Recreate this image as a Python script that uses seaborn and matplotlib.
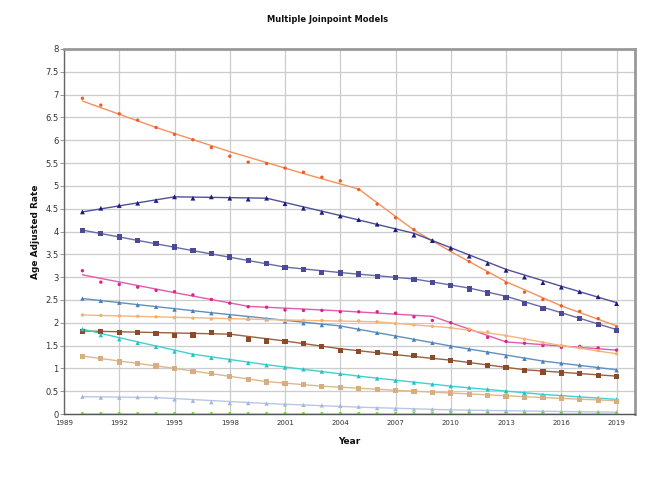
import matplotlib
matplotlib.use("Agg")
import matplotlib.pyplot as plt
import numpy as np
import pandas as pd
import seaborn as sns

years = list(range(1990, 2020))

orange_obs = [6.92, 6.77, 6.58, 6.44, 6.28, 6.13, 6.01, 5.84, 5.65, 5.52, 5.49, 5.39, 5.30, 5.19, 5.11,
              4.92, 4.60, 4.30, 4.04, 3.80, 3.59, 3.34, 3.09, 2.87, 2.67, 2.51, 2.37, 2.25, 2.09, 1.91]
navy_obs = [4.43, 4.51, 4.57, 4.62, 4.68, 4.76, 4.73, 4.76, 4.73, 4.71, 4.73, 4.61, 4.51, 4.42, 4.34,
            4.26, 4.16, 4.04, 3.92, 3.80, 3.64, 3.46, 3.30, 3.15, 3.00, 2.88, 2.78, 2.68, 2.57, 2.42]
slate_obs = [4.03, 3.95, 3.88, 3.80, 3.73, 3.66, 3.59, 3.52, 3.44, 3.36, 3.29, 3.21, 3.16, 3.11, 3.09,
             3.07, 3.02, 3.00, 2.95, 2.88, 2.81, 2.74, 2.65, 2.56, 2.43, 2.32, 2.21, 2.10, 1.97, 1.83]
pink_obs = [3.14, 2.89, 2.84, 2.78, 2.71, 2.68, 2.61, 2.51, 2.43, 2.35, 2.34, 2.28, 2.27, 2.27, 2.24,
            2.24, 2.24, 2.21, 2.13, 2.05, 2.00, 1.84, 1.68, 1.59, 1.55, 1.50, 1.46, 1.48, 1.45, 1.40]
steel_obs = [2.53, 2.48, 2.44, 2.39, 2.35, 2.29, 2.26, 2.21, 2.15, 2.10, 2.08, 2.03, 1.99, 1.95, 1.92,
             1.86, 1.78, 1.70, 1.63, 1.56, 1.48, 1.42, 1.35, 1.27, 1.21, 1.15, 1.11, 1.07, 1.02, 0.96]
peach_obs = [2.17, 2.16, 2.15, 2.14, 2.13, 2.11, 2.10, 2.08, 2.07, 2.07, 2.06, 2.05, 2.05, 2.05, 2.05,
             2.04, 2.02, 1.98, 1.95, 1.92, 1.89, 1.86, 1.80, 1.71, 1.64, 1.56, 1.50, 1.45, 1.39, 1.32]
brown_obs = [1.81, 1.81, 1.78, 1.78, 1.76, 1.72, 1.73, 1.78, 1.74, 1.64, 1.60, 1.59, 1.55, 1.48, 1.40,
             1.37, 1.35, 1.32, 1.29, 1.23, 1.18, 1.12, 1.07, 1.02, 0.96, 0.92, 0.90, 0.88, 0.85, 0.82]
cyan_obs = [1.86, 1.73, 1.64, 1.56, 1.47, 1.37, 1.30, 1.23, 1.18, 1.12, 1.07, 1.02, 0.98, 0.93, 0.88,
            0.83, 0.78, 0.73, 0.69, 0.65, 0.61, 0.58, 0.54, 0.50, 0.46, 0.42, 0.40, 0.38, 0.35, 0.32]
tan_obs = [1.26, 1.21, 1.14, 1.10, 1.05, 1.00, 0.94, 0.88, 0.83, 0.76, 0.70, 0.66, 0.64, 0.61, 0.58,
           0.56, 0.53, 0.51, 0.50, 0.48, 0.46, 0.43, 0.41, 0.39, 0.37, 0.36, 0.34, 0.31, 0.30, 0.28]
lblue_obs = [0.38, 0.36, 0.36, 0.37, 0.37, 0.32, 0.29, 0.26, 0.24, 0.24, 0.23, 0.21, 0.20, 0.19, 0.18,
             0.16, 0.13, 0.11, 0.10, 0.10, 0.09, 0.08, 0.07, 0.07, 0.06, 0.06, 0.05, 0.05, 0.05, 0.04]
green_obs = [0.01] * 30

# Fitted joinpoint lines (knots)
orange_fit_x = [1990, 1994, 1998, 2002, 2005, 2008, 2010, 2013, 2016, 2019]
orange_fit_y = [6.86, 6.28, 5.75, 5.27, 4.93, 4.03, 3.56, 2.90, 2.37, 1.93]
navy_fit_x = [1990, 1995, 2000, 2004, 2008, 2013, 2016, 2019]
navy_fit_y = [4.43, 4.76, 4.73, 4.35, 3.96, 3.17, 2.80, 2.44]
slate_fit_x = [1990, 1996, 2001, 2004, 2008, 2011, 2013, 2016, 2019]
slate_fit_y = [4.03, 3.58, 3.22, 3.10, 2.96, 2.76, 2.58, 2.22, 1.85]
pink_fit_x = [1990, 1995, 1999, 2004, 2009, 2013, 2016, 2019]
pink_fit_y = [3.05, 2.66, 2.36, 2.26, 2.14, 1.58, 1.49, 1.40]
steel_fit_x = [1990, 1997, 2004, 2007, 2010, 2015, 2019]
steel_fit_y = [2.53, 2.22, 1.93, 1.71, 1.49, 1.16, 0.97]
peach_fit_x = [1990, 2000, 2006, 2010, 2013, 2016, 2019]
peach_fit_y = [2.17, 2.07, 2.02, 1.89, 1.72, 1.50, 1.32]
brown_fit_x = [1990, 1998, 2001, 2004, 2007, 2010, 2014, 2019]
brown_fit_y = [1.82, 1.75, 1.60, 1.43, 1.30, 1.18, 0.97, 0.83]
cyan_fit_x = [1990, 1993, 1996, 2000, 2005, 2010, 2015, 2019]
cyan_fit_y = [1.86, 1.58, 1.31, 1.08, 0.83, 0.61, 0.43, 0.32]
tan_fit_x = [1990, 1995, 2000, 2003, 2007, 2010, 2015, 2019]
tan_fit_y = [1.27, 1.00, 0.71, 0.61, 0.52, 0.46, 0.36, 0.29]
lblue_fit_x = [1990, 1994, 2000, 2005, 2010, 2015, 2019]
lblue_fit_y = [0.38, 0.36, 0.23, 0.15, 0.09, 0.06, 0.04]
green_fit_x = [1990, 2019]
green_fit_y = [0.005, 0.005]

names = ["orange", "navy", "slate", "pink", "steel", "peach", "brown", "cyan", "tan", "lblue", "green"]
obs = [orange_obs, navy_obs, slate_obs, pink_obs, steel_obs, peach_obs, brown_obs, cyan_obs,
       tan_obs, lblue_obs, green_obs]
fits = [(orange_fit_x, orange_fit_y), (navy_fit_x, navy_fit_y), (slate_fit_x, slate_fit_y),
        (pink_fit_x, pink_fit_y), (steel_fit_x, steel_fit_y), (peach_fit_x, peach_fit_y),
        (brown_fit_x, brown_fit_y), (cyan_fit_x, cyan_fit_y), (tan_fit_x, tan_fit_y),
        (lblue_fit_x, lblue_fit_y), (green_fit_x, green_fit_y)]

obs_colors = {"orange": "#f05a28", "navy": "#1c1c7c", "slate": "#4a4a96", "pink": "#e0208c",
              "steel": "#4a80b4", "peach": "#f4b06c", "brown": "#8c4a28", "cyan": "#22c3c3",
              "tan": "#d8ae80", "lblue": "#a4b8dc", "green": "#70d020"}
fit_colors = {"orange": "#f4915c", "navy": "#50509c", "slate": "#6a6aa8", "pink": "#e35aae",
              "steel": "#5f8fc0", "peach": "#f5b67c", "brown": "#9b6040", "cyan": "#40d0d0",
              "tan": "#dcb890", "lblue": "#b8c8e4", "green": "#3c7c1c"}
markers = {"orange": "o", "navy": "^", "slate": "s", "pink": "o", "steel": "^", "peach": "o",
           "brown": "s", "cyan": "^", "tan": "s", "lblue": "^", "green": "o"}
sizes = {"orange": 6, "navy": 12, "slate": 14, "pink": 6, "steel": 10, "peach": 6,
         "brown": 14, "cyan": 10, "tan": 14, "lblue": 10, "green": 5}

obs_df = pd.DataFrame([(n, y, v) for n, vals in zip(names, obs) for y, v in zip(years, vals)],
                      columns=["series", "Year", "Rate"])
fit_df = pd.DataFrame([(n, x, v) for n, (xs, ys) in zip(names, fits) for x, v in zip(xs, ys)],
                      columns=["series", "Year", "Rate"])

sns.set_style("white")
fig = plt.figure(figsize=(6.56, 4.92), dpi=100)
ax = fig.add_axes([64 / 656, 1 - 414 / 492, (635 - 64) / 656, (414 - 49) / 492])

sns.lineplot(data=fit_df, x="Year", y="Rate", hue="series", palette=fit_colors,
             hue_order=names, linewidth=1.0, ax=ax, legend=False, zorder=2.6, sort=True)
sns.scatterplot(data=obs_df, x="Year", y="Rate", hue="series", palette=obs_colors,
                style="series", markers=markers, size="series", sizes=sizes,
                hue_order=names, style_order=names, size_order=names,
                linewidth=0, ax=ax, legend=False, zorder=3)

ax.set_xlim(1989, 2020)
ax.set_ylim(0, 8)
ax.set_xticks(list(range(1989, 2020, 3)))
ax.set_yticks(np.arange(0, 8.01, 0.5))
ax.set_yticklabels([f"{v:g}" for v in np.arange(0, 8.01, 0.5)])
ax.grid(True, color="#cccccc", linewidth=0.9)
ax.set_axisbelow(True)
ax.tick_params(axis="x", labelsize=5, colors="#333333", length=0, pad=4)
ax.tick_params(axis="y", labelsize=6, colors="#333333", length=3, width=0.6, pad=1, left=True)
ax.tick_params(axis="y", color="#888888")

for side in ["top", "right"]:
    ax.spines[side].set_color("#999999")
    ax.spines[side].set_linewidth(2)
ax.spines["left"].set_color("#666666")
ax.spines["left"].set_linewidth(1)
ax.spines["bottom"].set_color("#555555")
ax.spines["bottom"].set_linewidth(1)

ax.set_xlabel("Year", fontsize=6.5, fontweight="bold", color="#111111", labelpad=8)
ax.set_ylabel("Age Adjusted Rate", fontsize=6.5, fontweight="bold", color="#111111", labelpad=4)
fig.text(328 / 656, 1 - 20 / 492, "Multiple Joinpoint Models", ha="center", va="center",
         fontsize=6, fontweight="bold", color="#111111")

fig.savefig("out.png", dpi=100)
